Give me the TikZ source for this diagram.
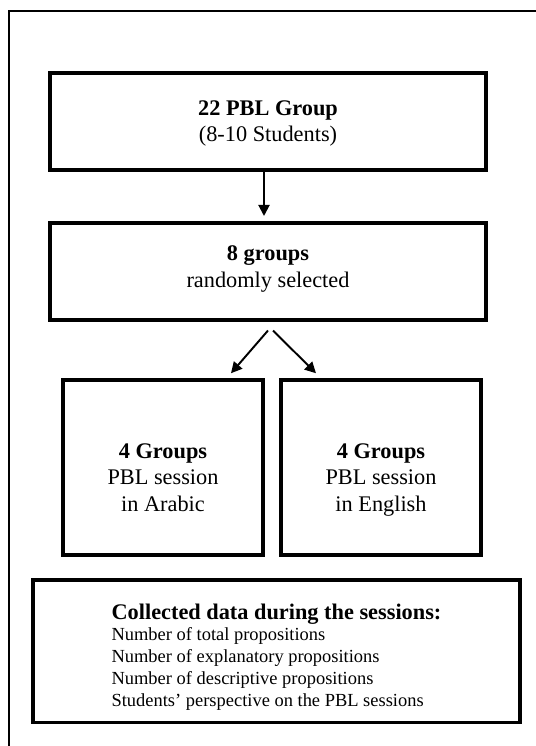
\documentclass[tikz,border=0pt]{standalone}
\usepackage{fontspec}
\setmainfont{Liberation Serif}
\usetikzlibrary{arrows.meta}

\begin{document}
\begin{tikzpicture}[
    box/.style={draw, line width=2pt, inner sep=0pt},
    txt/.style={align=center, font=\fontsize{12.7}{15.2}\selectfont},
    arr/.style={line width=1.1pt, -{Triangle[length=0.22cm, width=0.22cm]}}
]

    \useasboundingbox (0,0) rectangle (10.7,-14.92);

    %Frame
    \draw[line width=0.8pt] (0.18,-15) -- (0.18,-0.22) -- (10.8,-0.22);

    %Boxes
    \node[box, minimum width=8.73cm, minimum height=1.95cm] (pbl) at (5.36,-2.43) {};
    \node[box, minimum width=8.73cm, minimum height=1.95cm] (selected) at (5.36,-5.43) {};
    \node[box, minimum width=4.0cm, minimum height=3.5cm] (arabic) at (3.26,-9.35) {};
    \node[box, minimum width=4.0cm, minimum height=3.5cm] (english) at (7.62,-9.35) {};
    \node[box, minimum width=9.75cm, minimum height=2.85cm] (data) at (5.53,-13.02) {};

    %Edges
    \draw[arr] ([xshift=-0.08cm]pbl.south) -- ([xshift=-0.08cm, yshift=0.1cm]selected.north);
    \draw[arr] ([yshift=-0.17cm]selected.south) -- ([xshift=1.36cm, yshift=0.1cm]arabic.north);
    \draw[arr] ([xshift=0.1cm, yshift=-0.17cm]selected.south) -- ([xshift=-1.3cm, yshift=0.1cm]english.north);

    %Labels
    \node[txt] (pbltxt) at ([yshift=-0.04cm]pbl.center) {\textbf{22 PBL Group}\\(8-10 Students)};
    \node[txt] (selectedtxt) at ([yshift=0.05cm]selected.center) {\textbf{8 groups}\\randomly selected};
    \node[txt, font=\fontsize{12.7}{14.8}\selectfont] (arabictxt) at ([yshift=-0.28cm]arabic.center) {\textbf{4 Groups}\\PBL session\\in Arabic\strut};
    \node[txt, font=\fontsize{12.7}{14.8}\selectfont] (englishtxt) at ([yshift=-0.28cm]english.center) {\textbf{4 Groups}\\PBL session\\in English\strut};
    \node[txt, align=left, font=\fontsize{10.5}{12.4}\selectfont] (datatxt) at ([yshift=-0.12cm]data.center)
        {{\fontsize{12.7}{12.4}\selectfont\textbf{Collected data during the sessions:}}\\
         Number of total propositions\\
         Number of explanatory propositions\\
         Number of descriptive propositions\\
         Students' perspective on the PBL sessions};

\end{tikzpicture}
\end{document}
